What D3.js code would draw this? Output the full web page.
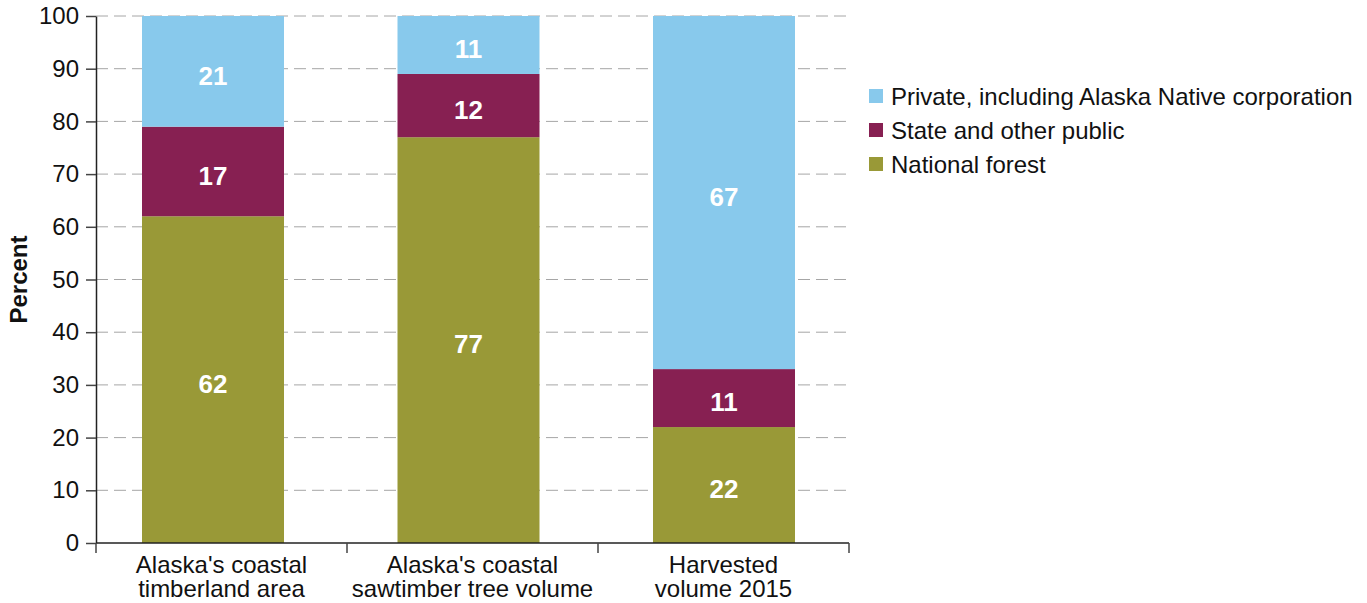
<!DOCTYPE html>
<html>
<head>
<meta charset="utf-8">
<script src="https://cdn.jsdelivr.net/npm/d3@7"></script>
<style>
  html, body { margin: 0; padding: 0; background: #fff; }
  svg { display: block; font-family: "Liberation Sans", Arial, sans-serif; }
</style>
</head>
<body>
<svg id="chart" width="1367" height="603"></svg>
<script>
// Ownership shares (percent) of Alaska's coastal forest
const categories = [
  ["Alaska's coastal", "timberland area"],
  ["Alaska's coastal", "sawtimber tree volume"],
  ["Harvested", "volume 2015"]
];
const seriesNames = ["National forest", "State and other public", "Private, including Alaska Native corporation"];
const nationalForest = [62, 77, 22];
const statePublic = [17, 12, 11];
const privateNative = [21, 11, 67];
const colors = ["#999937", "#872052", "#88C9EC"];
const yTicks = [0, 10, 20, 30, 40, 50, 60, 70, 80, 90, 100];

const svg = d3.select("#chart");
const plot = { left: 96, right: 849, top: 16, bottom: 543 };

const keys = categories.map((c, i) => "c" + i);
const rows = keys.map((k, i) => ({
  key: k,
  [seriesNames[0]]: nationalForest[i],
  [seriesNames[1]]: statePublic[i],
  [seriesNames[2]]: privateNative[i]
}));

const y = d3.scaleLinear().domain([0, 100]).range([plot.bottom, plot.top]);
const xBand = d3.scaleBand().domain(keys).range([plot.left, plot.right]).padding(0);
const xBar = d3.scalePoint().domain(keys).range([213, 724]);
const barWidth = 142;

// dashed gridlines
svg.append("g")
  .selectAll("line")
  .data(yTicks.filter(t => t > 0))
  .join("line")
  .attr("x1", plot.left).attr("x2", plot.right)
  .attr("y1", d => y(d)).attr("y2", d => y(d))
  .attr("stroke", "#a6a6a6")
  .attr("stroke-width", 1)
  .attr("stroke-dasharray", "12,6");

// stacked bars
const stack = d3.stack().keys(seriesNames)(rows);
const layers = svg.append("g").selectAll("g")
  .data(stack)
  .join("g")
  .attr("fill", (d, i) => colors[i]);

layers.selectAll("rect")
  .data(d => d)
  .join("rect")
  .attr("x", d => xBar(d.data.key) - barWidth / 2)
  .attr("width", barWidth)
  .attr("y", d => y(d[1]))
  .attr("height", d => y(d[0]) - y(d[1]));

layers.selectAll("text")
  .data(d => d.map(v => ({ v, val: v[1] - v[0] })))
  .join("text")
  .attr("x", d => xBar(d.v.data.key))
  .attr("y", d => (y(d.v[0]) + y(d.v[1])) / 2 + 4)
  .attr("dy", "0.36em")
  .attr("text-anchor", "middle")
  .attr("fill", "#fff")
  .attr("font-weight", "bold")
  .attr("font-size", "26px")
  .text(d => d.val);

// y axis
const yAxis = svg.append("g")
  .attr("transform", `translate(${plot.left},0)`)
  .call(d3.axisLeft(y).tickValues(yTicks).tickSize(10).tickSizeOuter(0).tickPadding(7));
yAxis.select(".domain").attr("stroke", "#222").attr("stroke-width", 1.5);
yAxis.selectAll(".tick line").attr("stroke", "#444").attr("stroke-width", 1.5);
yAxis.selectAll(".tick text")
  .attr("font-size", "24px")
  .attr("fill", "#111")
  .attr("font-family", "Liberation Sans, Arial, sans-serif");

// x axis with ticks at band boundaries
const xAxisG = svg.append("g").attr("transform", `translate(0,${plot.bottom})`);
xAxisG.append("line")
  .attr("x1", plot.left).attr("x2", plot.right)
  .attr("stroke", "#222").attr("stroke-width", 1.5);
const bounds = keys.map(k => xBand(k)).concat([xBand(keys[keys.length - 1]) + xBand.bandwidth()]);
xAxisG.selectAll("line.tk")
  .data(bounds)
  .join("line")
  .attr("class", "tk")
  .attr("x1", d => d).attr("x2", d => d)
  .attr("y1", 0).attr("y2", 10)
  .attr("stroke", "#444").attr("stroke-width", 1.5);
const catLabels = xAxisG.selectAll("text.cat")
  .data(categories)
  .join("text")
  .attr("class", "cat")
  .attr("text-anchor", "middle")
  .attr("font-size", "24px")
  .attr("fill", "#111")
  .attr("transform", (d, i) => `translate(${xBand(keys[i]) + xBand.bandwidth() / 2},0)`);
catLabels.selectAll("tspan")
  .data(d => d)
  .join("tspan")
  .attr("x", 0)
  .attr("y", (d, i) => 30 + i * 24)
  .text(d => d);

// y axis title
svg.append("text")
  .attr("transform", `translate(27,${(plot.top + plot.bottom) / 2}) rotate(-90)`)
  .attr("text-anchor", "middle")
  .attr("font-size", "24px")
  .attr("font-weight", "bold")
  .attr("fill", "#111")
  .text("Percent");

// legend (top-down: private, state, national)
const legendOrder = [2, 1, 0];
const legend = svg.append("g").attr("transform", "translate(869,96)");
const items = legend.selectAll("g")
  .data(legendOrder)
  .join("g")
  .attr("transform", (d, i) => `translate(0,${i * 34})`);
items.append("rect")
  .attr("x", 0).attr("y", -7)
  .attr("width", 14).attr("height", 14)
  .attr("fill", d => colors[d]);
items.append("text")
  .attr("x", 22)
  .attr("dy", "0.36em")
  .attr("font-size", "24px")
  .attr("fill", "#111")
  .text(d => seriesNames[d]);
</script>
</body>
</html>
